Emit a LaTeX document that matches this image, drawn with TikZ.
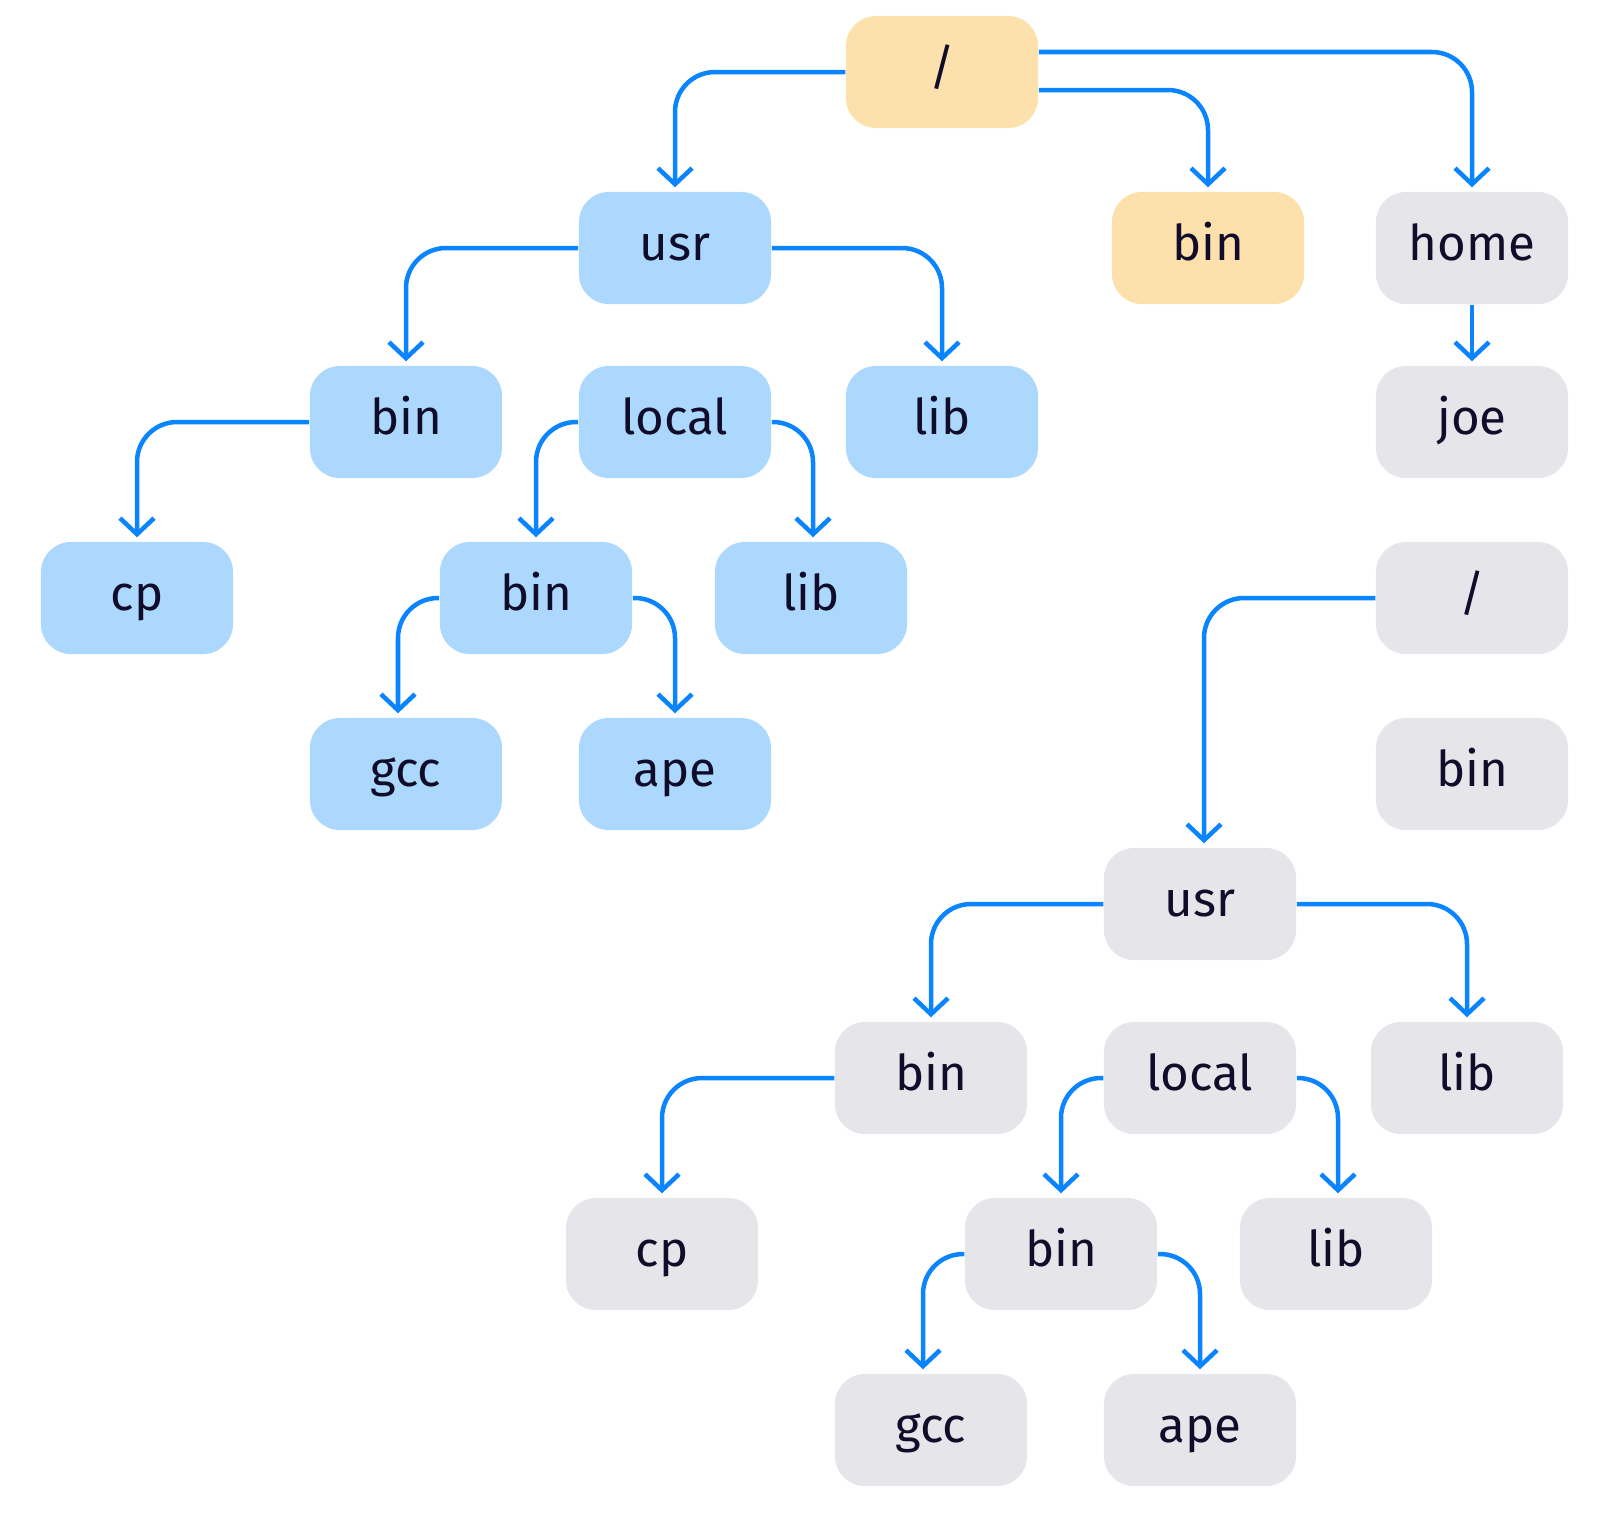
\documentclass[tikz,border=0pt]{standalone}
\usepackage{fontspec}
\setmainfont{Fira Sans}
\usetikzlibrary{arrows.meta,backgrounds}
\definecolor{LinkClr}{RGB}{10,132,255}
\definecolor{BlueFill}{RGB}{172,216,254}
\definecolor{SandFill}{RGB}{253,225,172}
\definecolor{GreyFill}{RGB}{229,229,234}
\definecolor{TextClr}{RGB}{16,12,42}

\tikzset{
  dir/.style={rounded corners=0.3cm,minimum width=1.92cm,minimum height=1.12cm,
    inner sep=0pt,text=TextClr,text height=0.45cm,text depth=0.196cm,
    font=\fontsize{14}{16}\selectfont},
  bluedir/.style={dir,fill=BlueFill},
  sanddir/.style={dir,fill=SandFill},
  greydir/.style={dir,fill=GreyFill},
  link/.style={draw=LinkClr,line width=0.045cm,rounded corners=0.4cm,
    -{Straight Barb[length=0.16cm,width=0.34cm]},shorten >=0.04cm}
}

\begin{document}
\begin{tikzpicture}[x=0.01cm,y=-0.01cm]
\useasboundingbox (0,0) rectangle (1600,1514);

% first tree
\node[sanddir] (root) at (942,72) {/};
\node[bluedir] (usr) at (675,248) {usr};
\node[sanddir] (bin) at (1208,248) {bin};
\node[greydir] (home) at (1472,248) {home};
\node[greydir] (joe) at (1472,422) {joe};
\node[bluedir] (ubin) at (406,422) {bin};
\node[bluedir] (local) at (675,422) {local};
\node[bluedir] (lib) at (942,422) {lib};
\node[bluedir] (cp) at (137,598) {cp};
\node[bluedir] (lbin) at (536,598) {bin};
\node[bluedir] (llib) at (811,598) {lib};
\node[bluedir] (gcc) at (406,774) {gcc};
\node[bluedir] (ape) at (675,774) {ape};

% second tree
\node[greydir] (rootb) at (1472,598) {/};
\node[greydir] (binb) at (1472,774) {bin};
\node[greydir] (usrb) at (1200,904) {usr};
\node[greydir] (ubinb) at (931,1078) {bin};
\node[greydir] (localb) at (1200,1078) {local};
\node[greydir] (libb) at (1467,1078) {lib};
\node[greydir] (cpb) at (662,1254) {cp};
\node[greydir] (lbinb) at (1061,1254) {bin};
\node[greydir] (llibb) at (1336,1254) {lib};
\node[greydir] (gccb) at (931,1430) {gcc};
\node[greydir] (apeb) at (1200,1430) {ape};

\begin{pgfonlayer}{background}
\draw[link] (root.west) -| (usr.north);
\draw[link] ([yshift=0.2cm]root.east) -| (home.north);
\draw[link] ([yshift=-0.18cm]root.east) -| (bin.north);
\draw[link] (home.south) -- (joe.north);
\draw[link] (usr.west) -| (ubin.north);
\draw[link] (usr.east) -| (lib.north);
\draw[link] (ubin.west) -| (cp.north);
\draw[link] (local.west) -| (lbin.north);
\draw[link] (local.east) -| ([xshift=0.02cm]llib.north);
\draw[link] (lbin.west) -| ([xshift=-0.08cm]gcc.north);
\draw[link] (lbin.east) -| (ape.north);

\draw[link] (rootb.west) -| ([xshift=0.04cm]usrb.north);
\draw[link] (usrb.west) -| (ubinb.north);
\draw[link] (usrb.east) -| (libb.north);
\draw[link] (ubinb.west) -| (cpb.north);
\draw[link] (localb.west) -| (lbinb.north);
\draw[link] (localb.east) -| ([xshift=0.02cm]llibb.north);
\draw[link] (lbinb.west) -| ([xshift=-0.08cm]gccb.north);
\draw[link] (lbinb.east) -| (apeb.north);
\end{pgfonlayer}
\end{tikzpicture}
\end{document}
